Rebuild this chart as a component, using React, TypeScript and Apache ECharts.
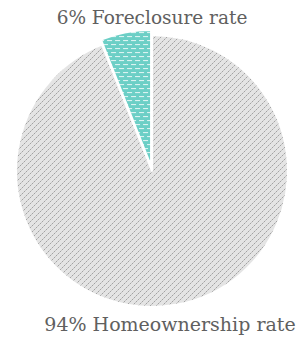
import React, { useEffect, useRef } from "react";
import * as echarts from "echarts";

const categories = ["Foreclosure rate", "Homeownership rate"];
const values = [6, 94];
const labelTexts = ["6% Foreclosure rate", "94% Homeownership rate"];

function grayPattern() {
  const c = document.createElement("canvas");
  c.width = 6;
  c.height = 6;
  const ctx = c.getContext("2d")!;
  ctx.fillStyle = "#e4e4e4";
  ctx.fillRect(0, 0, 6, 6);
  for (let i = 0; i < 6; i++) {
    ctx.fillStyle = i % 2 === 0 ? "#a2a2a2" : "#c4c4c4";
    ctx.fillRect(i, 5 - i, 1, 1);
  }
  return c;
}

function tealPattern() {
  const c = document.createElement("canvas");
  c.width = 8;
  c.height = 8;
  const ctx = c.getContext("2d")!;
  ctx.fillStyle = "#6ccfc6";
  ctx.fillRect(0, 0, 8, 8);
  ctx.fillStyle = "#e6f7f5";
  ctx.fillRect(0, 1, 5, 1);
  ctx.fillRect(4, 5, 5, 1);
  ctx.fillRect(0, 5, 1, 1);
  return c;
}

export default function App() {
  const ref = useRef<HTMLDivElement>(null);
  useEffect(() => {
    if (!ref.current) return;
    const chart = echarts.init(ref.current, null, { renderer: "svg" });
    const fills = [tealPattern(), grayPattern()];
    chart.setOption({
      animation: false,
      backgroundColor: "#ffffff",
      series: [
        {
          type: "pie",
          center: [152, 171],
          radius: 136,
          startAngle: 90,
          clockwise: false,
          selectedMode: "single",
          selectedOffset: 5,
          label: { show: false },
          labelLine: { show: false },
          emphasis: { disabled: true },
          itemStyle: { borderColor: "#ffffff", borderWidth: 2 },
          data: categories.map((name, i) => ({
            name,
            value: values[i],
            selected: i === 0,
            itemStyle: {
              color: { image: fills[i], repeat: "repeat" },
            },
          })),
        },
      ],
      graphic: [
        {
          type: "text",
          x: 152,
          y: 17,
          style: {
            text: labelTexts[0],
            fontFamily: "DejaVu Serif",
            fontSize: 18.5,
            fill: "#606060",
            align: "center",
            verticalAlign: "middle",
          },
        },
        {
          type: "text",
          x: 170,
          y: 324,
          style: {
            text: labelTexts[1],
            fontFamily: "DejaVu Serif",
            fontSize: 19,
            fill: "#606060",
            align: "center",
            verticalAlign: "middle",
          },
        },
      ],
    });
    return () => chart.dispose();
  }, []);
  return (
    <div
      ref={ref}
      style={{ position: "fixed", left: 0, top: 0, width: 303, height: 338 }}
    />
  );
}
